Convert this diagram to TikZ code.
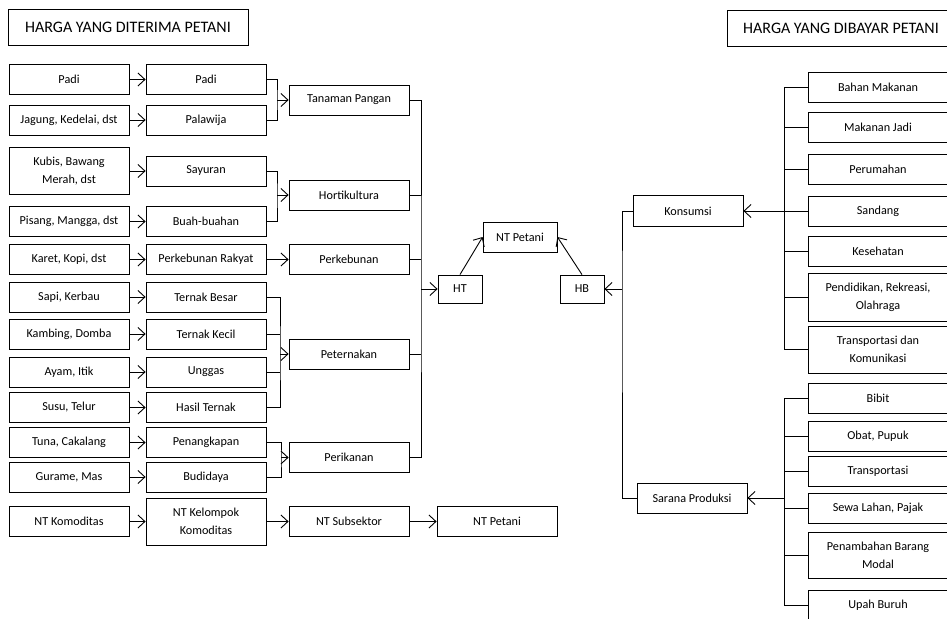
\documentclass[tikz,border=0pt]{standalone}
\usepackage{fontspec}
\setmainfont{Carlito}
\usetikzlibrary{arrows.meta,positioning,calc}
\tikzset{box/.style={draw,minimum width=120pt,minimum height=30pt,inner sep=2pt,align=center,font=\fontsize{12.2}{18}\selectfont},
  tall/.style={box,minimum height=47pt},
  rbox/.style={box,minimum width=140pt},
  titlebox/.style={box,minimum height=36pt,font=\fontsize{16}{18}\selectfont},
  arr/.style={-{Straight Barb[length=7pt,width=13pt]},line width=0.9pt},
  ln/.style={line width=0.9pt}}

\begin{document}
\begin{tikzpicture}[x=1pt,y=-1pt,line width=0.8pt]
\useasboundingbox (0,0) rectangle (947,618);
\clip (0,0) rectangle (947,618);
% titles
\node[titlebox,minimum width=240pt] (tL) at (128,27) {HARGA YANG DITERIMA PETANI};
\node[titlebox,minimum width=228pt] (tR) at (841,28) {HARGA YANG DIBAYAR PETANI};
% harga yang diterima: komoditas -> kelompok komoditas
\foreach \i/\y/\a/\b in {1/79.5/Padi/Padi,2/120/{Jagung, Kedelai, dst}/Palawija,4/221.5/{Pisang, Mangga, dst}/Buah-buahan,
  5/259.5/{Karet, Kopi, dst}/Perkebunan Rakyat,6/297/{Sapi, Kerbau}/Ternak Besar,7/334/{Kambing, Domba}/Ternak Kecil,
  8/372/{Ayam, Itik}/Unggas,9/407.5/{Susu, Telur}/Hasil Ternak,10/442.5/{Tuna, Cakalang}/Penangkapan,11/477/{Gurame, Mas}/Budidaya}{
  \node[box] (a\i) at (69,\y) {\a}; \node[box] (b\i) at (206,\y) {\b};
  \draw[arr] (a\i) -- (b\i);}
\node[tall] (a3) at (69,171) {Kubis, Bawang\\Merah, dst}; \node[box] (b3) at (206,171) {Sayuran};
\draw[arr] (a3) -- (b3);
\node[box] (a12) at (69,521.5) {NT Komoditas}; \node[tall] (b12) at (206,521.5) {NT Kelompok\\Komoditas};
\draw[arr] (a12) -- (b12);
% subsektor
\foreach \i/\y/\t in {1/100/Tanaman Pangan,2/195/Hortikultura,3/259.5/Perkebunan,4/354/Peternakan,5/457.5/Perikanan,6/521.5/NT Subsektor}{
  \node[box] (s\i) at (349,\y) {\t};}
\node[box] (ntb) at (497,521.5) {NT Petani};
\coordinate (j1) at (277,100); \coordinate (j2) at (277,195);
\coordinate (j4) at (280,354); \coordinate (j5) at (281,457.5);
\draw[ln] (b1.east) -| (j1) |- (b2.east); \draw[arr] (j1) -- (s1);
\draw[ln] (b3.east) -| (j2) |- (b4.east); \draw[arr] (j2) -- (s2);
\draw[arr] (b5) -- (s3);
\draw[ln] (b6.east) -| (j4) |- (b9.east); \draw[arr] (j4) -- (s4);
\foreach \i in {7,8}{\draw[ln] (b\i.east) -- (b\i.east -| j4);}
\draw[ln] (b10.east) -| (j5) |- (b11.east); \draw[arr] (j5) -- (s5);
\draw[arr] (b12) -- (s6); \draw[arr] (s6) -- (ntb);
% nilai tukar petani
\node[box,minimum width=44pt,minimum height=28pt] (ht) at (460,289) {HT};
\node[box,minimum width=44pt,minimum height=28pt] (hb) at (582,289) {HB};
\node[box,minimum width=74pt] (ntp) at (520,237) {NT Petani};
\coordinate (jh) at (421,289);
\draw[ln] (s1.east) -| (jh) |- (s5.east);
\foreach \i in {2,3,4}{\draw[ln] (s\i.east) -- (s\i.east -| jh);}
\draw[arr] (jh) -- (ht);
\draw[arr] (ht.north) -- (ntp.west); \draw[arr] (hb.north) -- (ntp.east);
% harga yang dibayar
\node[box,minimum width=110pt,minimum height=31pt] (kon) at (688,211) {Konsumsi};
\node[box,minimum width=110pt] (sar) at (692,498) {Sarana Produksi};
\coordinate (jb) at (622,289);
\draw[ln] (kon.west) -| (jb) |- (sar.west); \draw[arr] (jb) -- (hb);
\foreach \i/\y/\t in {1/87/Bahan Makanan,2/127/Makanan Jadi,3/169/Perumahan,4/211/Sandang,5/251/Kesehatan}{
  \node[rbox] (k\i) at (878,\y) {\t};}
\node[rbox,minimum height=48pt] (k6) at (878,297) {Pendidikan, Rekreasi,\\Olahraga};
\node[rbox,minimum height=47pt] (k7) at (878,349.5) {Transportasi dan\\Komunikasi};
\foreach \i/\y/\t in {1/398/Bibit,2/436/{Obat, Pupuk},3/471.5/Transportasi,4/508/{Sewa Lahan, Pajak},6/605/Upah Buruh}{
  \node[rbox] (p\i) at (878,\y) {\t};}
\node[rbox,minimum height=46pt] (p5) at (878,555) {Penambahan Barang\\Modal};
\coordinate (jk) at (784,211); \coordinate (jp) at (784,498);
\draw[ln] (k1.west) -| (jk) |- (k7.west);
\foreach \i in {2,...,6}{\draw[ln] (k\i.west) -- (k\i.west -| jk);}
\draw[arr] (jk) -- (kon);
\draw[ln] (p1.west) -| (jp) |- (p6.west);
\foreach \i in {2,...,5}{\draw[ln] (p\i.west) -- (p\i.west -| jp);}
\draw[arr] (jp) -- (sar);
\end{tikzpicture}
\end{document}
